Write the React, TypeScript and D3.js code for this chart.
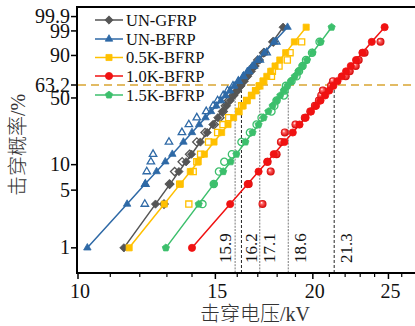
import React from 'react';
import * as d3 from 'd3';

// breakdown probability levels (%) shared by every sample
const probLevels = [3.4, 5.9, 8.3, 10.8, 13.2, 18.1, 23.0, 27.9, 32.8, 37.7, 42.6, 47.5, 52.5, 57.4, 62.3, 67.2, 72.1, 77.0, 81.9, 86.8, 91.7, 96.6];
// fitted points include the two end points of the fit line
const fitLevels = [1.0, ...probLevels, 99.4];

const seriesNames = ['UN-GFRP', 'UN-BFRP', '0.5K-BFRP', '1.0K-BFRP', '1.5K-BFRP'];

// kV on the fitted Weibull line (filled markers)
const gfrpFit = [11.45, 12.57, 13.12, 13.47, 13.76, 13.98, 14.35, 14.64, 14.89, 15.11, 15.31, 15.50, 15.67, 15.84, 16.01, 16.17, 16.33, 16.50, 16.68, 16.87, 17.09, 17.35, 17.76, 18.32];
const bfrpFit = [10.28, 11.56, 12.19, 12.61, 12.94, 13.21, 13.65, 14.00, 14.30, 14.57, 14.81, 15.04, 15.25, 15.46, 15.66, 15.86, 16.07, 16.28, 16.49, 16.73, 17.00, 17.34, 17.84, 18.56];
const k05Fit = [11.63, 12.90, 13.52, 13.93, 14.26, 14.52, 14.94, 15.28, 15.57, 15.83, 16.06, 16.28, 16.48, 16.68, 16.88, 17.06, 17.26, 17.46, 17.66, 17.89, 18.14, 18.46, 18.94, 19.61];
const k10Fit = [14.00, 15.67, 16.50, 17.04, 17.48, 17.82, 18.39, 18.85, 19.23, 19.58, 19.89, 20.19, 20.46, 20.74, 20.99, 21.25, 21.51, 21.78, 22.06, 22.37, 22.72, 23.15, 23.80, 24.72];
const k15Fit = [12.96, 14.28, 14.93, 15.35, 15.69, 15.96, 16.39, 16.74, 17.04, 17.30, 17.54, 17.76, 17.97, 18.17, 18.37, 18.56, 18.76, 18.96, 19.17, 19.40, 19.66, 19.98, 20.47, 21.14];

// measured kV (open markers)
const gfrpData = [12.89, 13.1, 13.3, 13.6, 13.9, 14.2, 14.55, 14.95, 15.2, 15.35, 15.45, 15.6, 15.8, 16.0, 16.15, 16.3, 16.45, 16.6, 16.8, 17.0, 17.3, 17.8];
const bfrpData = [12.18, 12.2, 12.25, 12.40, 12.48, 13.08, 13.59, 13.87, 14.2, 14.6, 14.9, 15.1, 15.35, 15.55, 15.8, 16.05, 16.3, 16.55, 16.8, 17.1, 17.45, 17.95];
const k05Data = [13.87, 13.5, 14.05, 14.2, 14.36, 14.7, 15.1, 15.34, 15.6, 16.08, 16.21, 16.45, 16.7, 16.9, 17.1, 17.3, 17.7, 17.75, 18.1, 18.55, 18.7, 19.35];
const k10Data = [17.24, 16.55, 17.66, 17.5, 17.97, 18.2, 18.41, 19.0, 19.53, 19.85, 20.12, 20.36, 20.5, 20.6, 21.1, 21.22, 22.04, 22.3, 22.7, 22.9, 23.3, 24.42];
const k15Data = [14.44, 14.93, 15.16, 15.4, 15.75, 16.2, 16.61, 16.94, 17.19, 17.7, 17.85, 17.97, 18.36, 18.4, 18.47, 18.78, 19.06, 19.2, 19.4, 19.6, 19.95, 20.4];

const fits = [gfrpFit, bfrpFit, k05Fit, k10Fit, k15Fit];
const measured = [gfrpData, bfrpData, k05Data, k10Data, k15Data];

// scale parameter (63.2 %) of each fit
const scaleValues = [15.9, 16.2, 17.1, 18.6, 21.3];

const yTicks = [1, 5, 10, 50, 63.2, 90, 99, 99.9];
const xMajor = [10, 15, 20, 25];
const xMinor = [11, 12, 13, 14, 16, 17, 18, 19, 21, 22, 23, 24, 26];

const styles = [
  { color: '#555555', shape: 'diamond', open: 'diamond' },
  { color: '#2E69A6', shape: 'triangle', open: 'triangle' },
  { color: '#FFC000', shape: 'square', open: 'square' },
  { color: '#F01212', shape: 'circle', open: 'ball' },
  { color: '#3CBF6C', shape: 'pentagon', open: 'circle' },
];
const vlineStyles = [
  { stroke: '#7a7a7a', dash: '2,1.2', side: -4.5 },
  { stroke: '#222', dash: '3,2', side: 15.5 },
  { stroke: '#7a7a7a', dash: '2,1.2', side: 15.5 },
  { stroke: '#7a7a7a', dash: '2,1.2', side: 18 },
  { stroke: '#222', dash: '3,2', side: 18 },
];

const serif = '"Liberation Serif", "Times New Roman", serif';
const cjk = '"Liberation Serif", "Noto Sans CJK SC", serif';

const x = d3.scaleLog().domain([10, 26.8]).range([78, 412]);
const y = d3.scaleLinear().domain([-5.311, 2.203]).range([273, 7]);
const weib = (p: number) => Math.log(-Math.log(1 - p / 100));
const yp = (p: number) => y(weib(p));

function shapePath(shape: string, r: number) {
  const p = d3.path();
  const poly = (n: number, rot: number, rr: number) => {
    for (let i = 0; i < n; i++) {
      const a = rot + (i * 2 * Math.PI) / n;
      const px = rr * Math.cos(a), py = rr * Math.sin(a);
      if (i === 0) p.moveTo(px, py); else p.lineTo(px, py);
    }
    p.closePath();
  };
  if (shape === 'circle' || shape === 'ball') p.arc(0, 0, r, 0, 2 * Math.PI);
  else if (shape === 'triangle') poly(3, -Math.PI / 2, r * 1.2);
  else if (shape === 'diamond') poly(4, -Math.PI / 2, r * 1.15);
  else if (shape === 'square') p.rect(-r * 0.85, -r * 0.85, r * 1.7, r * 1.7);
  else poly(5, -Math.PI / 2, r * 1.05);
  return p.toString();
}

const Marker: React.FC<{ cx: number; cy: number; shape: string; color: string; open?: boolean }> = ({ cx, cy, shape, color, open }) => {
  if (shape === 'ball') {
    return <circle cx={cx} cy={cy} r={4} fill="url(#ball)" />;
  }
  const r = open ? 3.6 : 3.6;
  return (
    <path
      d={shapePath(shape, r)}
      transform={`translate(${cx},${cy})`}
      fill={open ? 'none' : color}
      stroke={color}
      strokeWidth={open ? 1.3 : 0.8}
    />
  );
};

export default function App() {
  const line = d3.line<[number, number]>().x(d => x(d[0])).y(d => yp(d[1]));
  const legendY = [20, 39, 57.5, 76, 95];

  return (
    <svg width={415} height={326} style={{ position: 'absolute', left: 0, top: 0, background: '#fff' }}>
      <defs>
        <radialGradient id="ball" cx="0.5" cy="0.5" r="0.5" fx="0.35" fy="0.3">
          <stop offset="0%" stopColor="#ffffff" />
          <stop offset="35%" stopColor="#ff6060" />
          <stop offset="100%" stopColor="#d10000" />
        </radialGradient>
      </defs>

      {/* 63.2 % reference line */}
      <line x1={78} x2={415} y1={yp(63.2)} y2={yp(63.2)} stroke="#D9A532" strokeWidth={1.6} strokeDasharray="8,5" />

      {/* scale parameter drop lines */}
      {scaleValues.map((v, i) => (
        <g key={v}>
          <line x1={x(v)} x2={x(v)} y1={yp(63.2)} y2={273} stroke={vlineStyles[i].stroke} strokeWidth={1} strokeDasharray={vlineStyles[i].dash} />
          <text
            transform={`translate(${x(v) + vlineStyles[i].side},263) rotate(-90)`}
            fontFamily={serif}
            fontSize={17}
            fill="#111"
          >
            {v.toFixed(1)}
          </text>
        </g>
      ))}

      {/* series */}
      {fits.map((fit, si) => {
        const st = styles[si];
        const fitPts = fit.map((v, i) => [v, fitLevels[i]] as [number, number]);
        return (
          <g key={seriesNames[si]}>
            <path d={line(fitPts) || ''} fill="none" stroke={st.color} strokeWidth={1.5} />
            {measured[si].map((v, i) => (
              <Marker key={'o' + i} cx={x(v)} cy={yp(probLevels[i])} shape={st.open} color={st.color} open />
            ))}
            {fitPts.map((d, i) => (
              <Marker key={'f' + i} cx={x(d[0])} cy={yp(d[1])} shape={st.shape} color={st.color} />
            ))}
          </g>
        );
      })}

      {/* frame */}
      <line x1={77} x2={77} y1={6} y2={274} stroke="#000" strokeWidth={2} />
      <line x1={76} x2={415} y1={273} y2={273} stroke="#000" strokeWidth={2} />
      <line x1={76} x2={415} y1={7} y2={7} stroke="#000" strokeWidth={2} />

      {/* y ticks */}
      {yTicks.map(t => (
        <g key={t}>
          <line x1={71} x2={77} y1={yp(t)} y2={yp(t)} stroke="#000" strokeWidth={1.5} />
          <text x={70} y={yp(t)} dy="0.33em" textAnchor="end" fontFamily={serif} fontSize={20} fill="#111">
            {String(t)}
          </text>
        </g>
      ))}

      {/* x ticks */}
      {xMajor.map(t => (
        <g key={t}>
          <line x1={x(t)} x2={x(t)} y1={273} y2={279} stroke="#000" strokeWidth={1.5} />
          <text x={x(t) + 2} y={298} textAnchor="middle" fontFamily={serif} fontSize={20} fill="#111">
            {t}
          </text>
        </g>
      ))}
      {xMinor.map(t => (
        <line key={t} x1={x(t)} x2={x(t)} y1={273} y2={277} stroke="#000" strokeWidth={1.2} />
      ))}

      {/* axis titles */}
      <text x={255} y={321} textAnchor="middle" fontFamily={cjk} fontSize={20} fontWeight={300} fill="#333">击穿电压/kV</text>
      <text transform="translate(25,145) rotate(-90)" textAnchor="middle" fontFamily={cjk} fontSize={20} fontWeight={300} fill="#333">击穿概率/%</text>

      {/* legend */}
      {seriesNames.map((n, i) => (
        <g key={n}>
          <line x1={95} x2={123} y1={legendY[i]} y2={legendY[i]} stroke={styles[i].color} strokeWidth={1.5} />
          <Marker cx={109} cy={legendY[i]} shape={styles[i].shape} color={styles[i].color} />
          <text x={126} y={legendY[i]} dy="0.35em" fontFamily={serif} fontSize={16.5} fill="#111">{n}</text>
        </g>
      ))}
    </svg>
  );
}
